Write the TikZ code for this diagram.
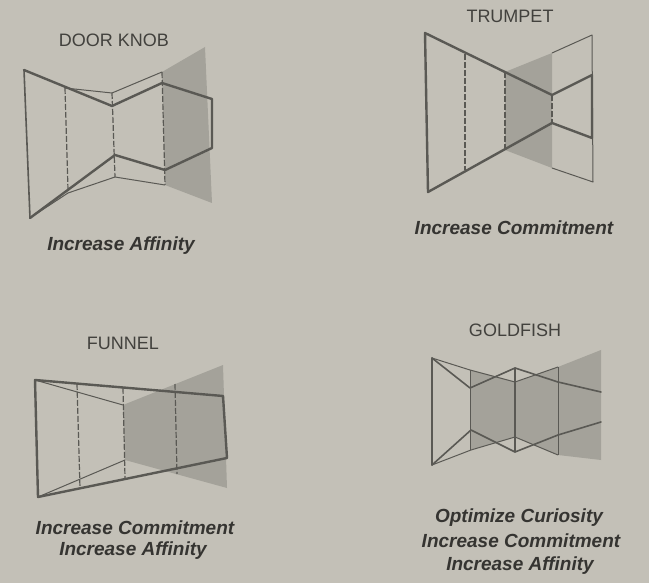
\documentclass[tikz,border=0pt]{standalone}
\usepackage{fontspec}
\setmainfont{Liberation Sans}
\definecolor{bgc}{HTML}{C3C0B7}
\definecolor{shadec}{HTML}{A4A29A}
\definecolor{linec}{HTML}{5A5954}
\definecolor{titlec}{HTML}{42413D}
\definecolor{subc}{HTML}{353431}
\begin{document}
\begin{tikzpicture}[x=1pt,y=-1pt,
  outl/.style={draw=linec,line width=2.4pt,line join=round,line cap=round},
  medl/.style={draw=linec,line width=1.6pt,line join=round,line cap=round},
  thinl/.style={draw=linec,line width=1.0pt,line join=round},
  dashl/.style={draw=linec,line width=1.2pt,dash pattern=on 6pt off 2pt},
  shadep/.style={fill=shadec},
  ttl/.style={font=\fontsize{18}{20}\selectfont,text=titlec,inner sep=0pt},
  sub/.style={font=\fontsize{19}{23}\selectfont\bfseries\itshape,text=subc,inner sep=0pt}]
\fill[bgc] (0,0) rectangle (649,583);
\useasboundingbox (0,0) rectangle (649,583);

% ---------- DOOR KNOB ----------
\fill[shadep] (162,72) -- (205,47) -- (212,203) -- (165,185) -- cycle;
\draw[medl] (24,70) -- (30,218);
\draw[thinl] (65,88) -- (112,93) -- (162,72);
\draw[thinl] (30,218) -- (68,193) -- (115,177) -- (165,185);
\draw[dashl] (65,88) -- (68,190);
\draw[dashl] (112,93) -- (115,177);
\draw[dashl] (162,72) -- (165,185);
\draw[outl] (24,70) -- (112,106) -- (162,83) -- (212,99) -- (212,148) -- (165,170) -- (115,155) -- (30,218);

% ---------- TRUMPET ----------
\fill[shadep] (505,72) -- (552,53) -- (552,168) -- (505,150) -- cycle;
\draw[thinl] (552,53) -- (592,35) -- (593,182) -- (552,168);
\draw[dashl] (465,54) -- (465,170);
\draw[dashl] (505,72) -- (505,150);
\draw[dashl] (552,95) -- (552,123);
\draw[outl] (425,33) -- (552,95) -- (592,75) -- (592,138) -- (552,123) -- (428,192) -- cycle;

% ---------- FUNNEL ----------
\fill[shadep] (123,405) -- (223,365) -- (227,488) -- (125,460) -- cycle;
\draw[thinl] (35,380) -- (123,405);
\draw[thinl] (38,497) -- (125,460);
\draw[dashl] (77,384) -- (80,488);
\draw[dashl] (123,388) -- (125,478);
\draw[dashl] (175,384) -- (177,474);
\draw[outl] (35,380) -- (223,396) -- (227,458) -- (38,497) -- cycle;

% ---------- GOLDFISH ----------
\fill[shadep] (470,370) -- (515,382) -- (515,437) -- (470,450) -- cycle;
\fill[shadep] (515,382) -- (558,367) -- (558,455) -- (515,437) -- cycle;
\fill[shadep] (558,367) -- (601,350) -- (601,460) -- (558,455) -- cycle;
\draw[medl] (432,358) -- (432,465);
\draw[thinl] (470,370) -- (470,450);
\draw[medl] (515,368) -- (515,452);
\draw[thinl] (558,367) -- (558,455);
\draw[medl] (432,358) -- (470,388) -- (515,368) -- (558,382) -- (601,392);
\draw[thinl] (432,358) -- (470,370) -- (515,382) -- (558,367);
\draw[medl] (432,465) -- (471,430) -- (515,452) -- (558,435) -- (601,422);
\draw[thinl] (432,465) -- (471,450) -- (515,437) -- (558,455);

% ---------- TEXT ----------
\node[ttl] (t1) at (114,40) {DOOR KNOB};
\node[ttl] (t2) at (510,16) {TRUMPET};
\node[ttl] (t3) at (123,343) {FUNNEL};
\node[ttl] (t4) at (515,330) {GOLDFISH};
\node[sub] (s1) at (121,246) {Increase Affinity};
\node[sub] (s2) at (514,228) {Increase Commitment};
\node[sub] (s3a) at (135,528) {Increase Commitment};
\node[sub] (s3b) at (133,551) {Increase Affinity};
\node[sub] (s4a) at (519,518) {Optimize Curiosity};
\node[sub] (s4b) at (521,541) {Increase Commitment};
\node[sub] (s4c) at (520,566) {Increase Affinity};
\end{tikzpicture}
\end{document}
